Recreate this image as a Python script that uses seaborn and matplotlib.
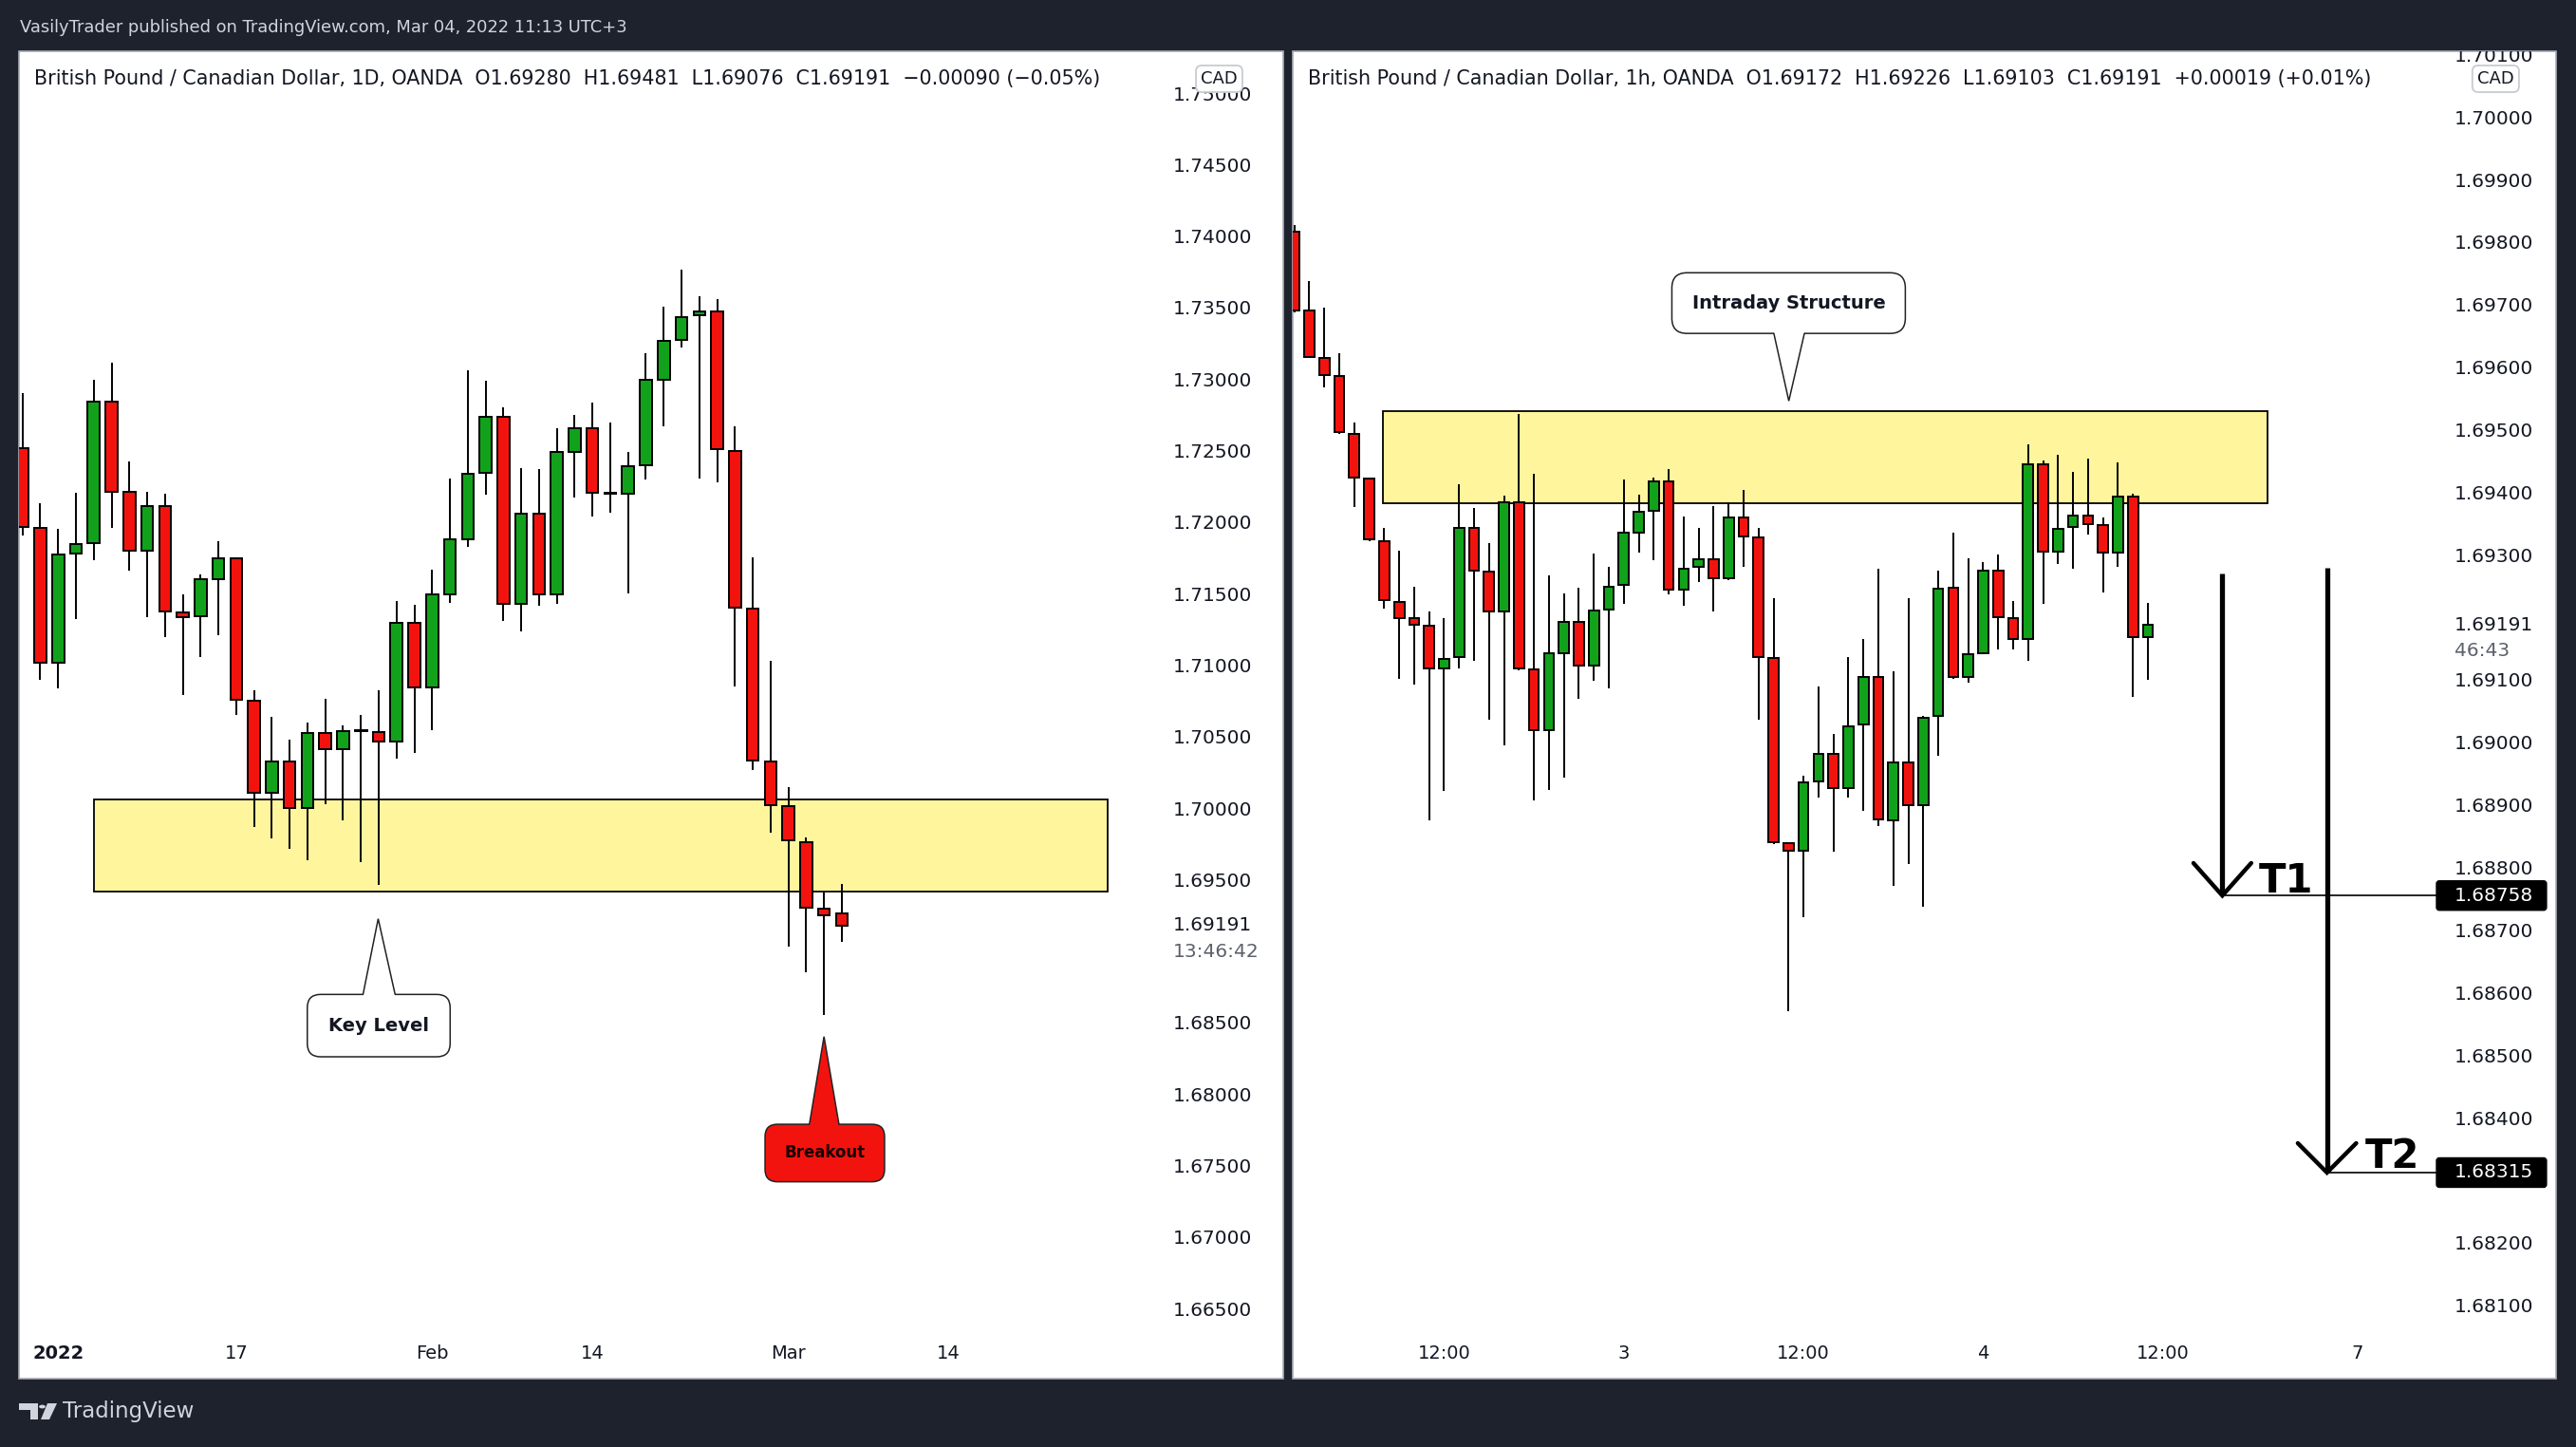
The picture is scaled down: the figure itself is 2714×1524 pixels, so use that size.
import numpy as np
import pandas as pd
import matplotlib
matplotlib.use("Agg")
import matplotlib.pyplot as plt
import matplotlib.transforms as mtransforms
from matplotlib.patches import Rectangle, FancyBboxPatch, Polygon, Circle
import seaborn as sns

# ------------------------------------------------------------------ data
# GBP/CAD daily candles (Dec 30 2021 .. Mar 04 2022)
daily_open = [1.72529, 1.71972, 1.71027, 1.71792, 1.71863, 1.72857, 1.72227, 1.71810,
              1.72127, 1.71380, 1.71352, 1.71617, 1.71759, 1.70763, 1.70123, 1.70339,
              1.70016, 1.70537, 1.70425, 1.70553, 1.70544, 1.70481, 1.71307, 1.70854,
              1.71510, 1.71896, 1.72356, 1.72750, 1.71439, 1.72072, 1.71508, 1.72506,
              1.72669, 1.72216, 1.72211, 1.72410, 1.73010, 1.73287, 1.73457, 1.73485,
              1.72513, 1.71405, 1.70339, 1.70029, 1.69777, 1.69313, 1.69280]
daily_high = [1.72915, 1.72148, 1.71967, 1.72216, 1.73007, 1.73126, 1.72440, 1.72222,
              1.72209, 1.71505, 1.71650, 1.71878, 1.71765, 1.70839, 1.70649, 1.70489,
              1.70613, 1.70776, 1.70590, 1.70666, 1.70839, 1.71464, 1.71436, 1.71683,
              1.72321, 1.73078, 1.73004, 1.72819, 1.72392, 1.72387, 1.72671, 1.72765,
              1.72847, 1.72712, 1.72506, 1.73192, 1.73521, 1.73777, 1.73590, 1.73576,
              1.72686, 1.71768, 1.71041, 1.70163, 1.69806, 1.69425, 1.69481]
daily_low = [1.71919, 1.70910, 1.70852, 1.71335, 1.71746, 1.71972, 1.71675, 1.71347,
             1.71210, 1.70804, 1.71070, 1.71225, 1.70664, 1.69879, 1.69802, 1.69726,
             1.69647, 1.70041, 1.69927, 1.69635, 1.69477, 1.70359, 1.70400, 1.70557,
             1.71449, 1.71840, 1.72206, 1.71322, 1.71248, 1.71431, 1.71441, 1.72186,
             1.72051, 1.72079, 1.71515, 1.72310, 1.72683, 1.73233, 1.72319, 1.72290,
             1.70865, 1.70281, 1.69839, 1.69047, 1.68867, 1.68565, 1.69076]
daily_close = [1.71980, 1.71027, 1.71787, 1.71861, 1.72857, 1.72227, 1.71810, 1.72127,
               1.71386, 1.71350, 1.71614, 1.71759, 1.70768, 1.70123, 1.70339, 1.70016,
               1.70537, 1.70425, 1.70550, 1.70557, 1.70481, 1.71307, 1.70854, 1.71508,
               1.71891, 1.72351, 1.72750, 1.71439, 1.72072, 1.71508, 1.72504, 1.72669,
               1.72216, 1.72212, 1.72404, 1.73007, 1.73280, 1.73449, 1.73485, 1.72521,
               1.71412, 1.70346, 1.70036, 1.69785, 1.69317, 1.69266, 1.69191]

# GBP/CAD hourly candles (Mar 02 02:00 .. Mar 04 11:00, UTC+3)
hourly_open = [1.69820, 1.69693, 1.69618, 1.69589, 1.69496, 1.69425, 1.69324, 1.69227,
               1.69201, 1.69189, 1.69122, 1.69139, 1.69346, 1.69276, 1.69213, 1.69387,
               1.69120, 1.69022, 1.69146, 1.69195, 1.69126, 1.69216, 1.69255, 1.69339,
               1.69374, 1.69420, 1.69248, 1.69283, 1.69296, 1.69266, 1.69363, 1.69331,
               1.69138, 1.68842, 1.68830, 1.68941, 1.68985, 1.68930, 1.69031, 1.69107,
               1.68878, 1.68971, 1.68903, 1.69045, 1.69250, 1.69107, 1.69146, 1.69278,
               1.69201, 1.69169, 1.69448, 1.69308, 1.69347, 1.69366, 1.69350, 1.69306,
               1.69396, 1.69172]
hourly_high = [1.69830, 1.69741, 1.69698, 1.69626, 1.69514, 1.69427, 1.69346, 1.69310,
               1.69252, 1.69213, 1.69202, 1.69416, 1.69378, 1.69321, 1.69397, 1.69528,
               1.69432, 1.69270, 1.69241, 1.69250, 1.69305, 1.69284, 1.69423, 1.69399,
               1.69426, 1.69440, 1.69364, 1.69346, 1.69381, 1.69387, 1.69407, 1.69346,
               1.69233, 1.68843, 1.68950, 1.69092, 1.69017, 1.69139, 1.69169, 1.69281,
               1.69117, 1.69233, 1.69046, 1.69278, 1.69339, 1.69297, 1.69291, 1.69304,
               1.69229, 1.69480, 1.69454, 1.69463, 1.69435, 1.69457, 1.69363, 1.69451,
               1.69401, 1.69226]
hourly_low = [1.69690, 1.69618, 1.69570, 1.69497, 1.69380, 1.69325, 1.69217, 1.69105,
              1.69096, 1.68878, 1.68926, 1.69121, 1.69133, 1.69040, 1.68998, 1.69118,
              1.68910, 1.68927, 1.68947, 1.69072, 1.69101, 1.69089, 1.69224, 1.69307,
              1.69294, 1.69239, 1.69222, 1.69259, 1.69213, 1.69263, 1.69283, 1.69040,
              1.68841, 1.68573, 1.68723, 1.68914, 1.68828, 1.68915, 1.68893, 1.68869,
              1.68773, 1.68808, 1.68740, 1.68981, 1.69105, 1.69099, 1.69146, 1.69151,
              1.69151, 1.69133, 1.69224, 1.69289, 1.69281, 1.69336, 1.69242, 1.69284,
              1.69076, 1.69103]
hourly_close = [1.69693, 1.69620, 1.69590, 1.69499, 1.69426, 1.69327, 1.69230, 1.69202,
                1.69191, 1.69122, 1.69136, 1.69346, 1.69278, 1.69213, 1.69387, 1.69121,
                1.69022, 1.69145, 1.69195, 1.69126, 1.69214, 1.69252, 1.69338, 1.69372,
                1.69420, 1.69248, 1.69281, 1.69296, 1.69266, 1.69363, 1.69332, 1.69140,
                1.68843, 1.68830, 1.68939, 1.68985, 1.68930, 1.69028, 1.69107, 1.68880,
                1.68971, 1.68903, 1.69042, 1.69249, 1.69107, 1.69144, 1.69278, 1.69203,
                1.69169, 1.69448, 1.69308, 1.69344, 1.69366, 1.69352, 1.69306, 1.69396,
                1.69171, 1.69191]

daily_tick_pos = [2, 12, 23, 32, 43, 52]
daily_tick_labels = ["2022", "17", "Feb", "14", "Mar", "14"]
hourly_tick_pos = [10, 22, 34, 46, 58, 71]
hourly_tick_labels = ["12:00", "3", "12:00", "4", "12:00", "7"]

daily_price_ticks = [1.750, 1.745, 1.740, 1.735, 1.730, 1.725, 1.720, 1.715, 1.710,
                     1.705, 1.700, 1.695, 1.685, 1.680, 1.675, 1.670, 1.665]
hourly_price_ticks = [1.701, 1.700, 1.699, 1.698, 1.697, 1.696, 1.695, 1.694, 1.693,
                      1.691, 1.690, 1.689, 1.688, 1.687, 1.686, 1.685, 1.684,
                      1.682, 1.681]

key_zone = (1.69428, 1.70073)
intraday_zone = (1.69385, 1.69532)
last_price = 1.69191
t1_price = 1.68758
t2_price = 1.68315

header_daily = ("British Pound / Canadian Dollar, 1D, OANDA  O1.69280  H1.69481  "
                "L1.69076  C1.69191  \u22120.00090 (\u22120.05%)")
header_hourly = ("British Pound / Canadian Dollar, 1h, OANDA  O1.69172  H1.69226  "
                 "L1.69103  C1.69191  +0.00019 (+0.01%)")

# ------------------------------------------------------------------ style
sns.set_theme(style="white")
plt.rcParams["font.family"] = ["DejaVu Sans"]

BG = "#1e222d"
GREEN = "#12a11b"
RED = "#f2130f"
YELLOW = "#fff59d"
TXT = "#131722"

W, H = 2714, 1524
fig = plt.figure(figsize=(W / 100, H / 100), dpi=100, facecolor=BG)


def fr(x0, y0, x1, y1):
    """pixel box (top-left origin) -> figure fraction rect"""
    return [x0 / W, 1 - y1 / H, (x1 - x0) / W, (y1 - y0) / H]


# panels
for (px0, px1) in [(20, 1352), (1362, 2693)]:
    fig.add_artist(Rectangle((px0 / W, 1 - 1452 / H), (px1 - px0) / W, (1452 - 54) / H,
                             transform=fig.transFigure, fc="white", ec="#a9acb5",
                             lw=1.2, zorder=-1))

axL = fig.add_axes(fr(20, 54, 1217, 1402))
axLp = fig.add_axes(fr(1217, 54, 1352, 1402))
axR = fig.add_axes(fr(1362, 54, 2567, 1402))
axRp = fig.add_axes(fr(2567, 54, 2693, 1402))
for a in (axL, axLp, axR, axRp):
    a.set_facecolor("none")
    a.axis("off")

axL.set_xlim(-0.197, 63.59)
axL.set_ylim(1.663552, 1.753057)
axR.set_xlim(-0.108, 76.27)
axR.set_ylim(1.680614, 1.701082)
axLp.set_xlim(0, 1)
axLp.set_ylim(axL.get_ylim())
axRp.set_xlim(0, 1)
axRp.set_ylim(axR.get_ylim())

PXL = (18.765, 15055.0)   # pixels per x unit, per price unit (daily)
PXR = (15.778, 65856.0)   # (hourly)


def candles(ax, o, h, l, c, width):
    df = pd.DataFrame({"open": o, "high": h, "low": l, "close": c})
    x = np.arange(len(df))
    up = df["close"] >= df["open"]
    cols = np.where(up, GREEN, RED)
    ax.vlines(x, df["low"], df["high"], color="black", lw=1.4, zorder=3)
    body = (df["close"] - df["open"]).abs().clip(lower=0.00002)
    ax.bar(x, body, bottom=np.minimum(df["open"], df["close"]), width=width,
           color=cols, edgecolor="black", linewidth=1.4, zorder=4)


# zones
axL.add_patch(Rectangle((4.02, key_zone[0]), 60.93 - 4.02, key_zone[1] - key_zone[0],
                        fc=YELLOW, ec="black", lw=1.3, zorder=2))
axR.add_patch(Rectangle((5.9, intraday_zone[0]), 65.0 - 5.9,
                        intraday_zone[1] - intraday_zone[0],
                        fc=YELLOW, ec="black", lw=1.3, zorder=2))

candles(axL, daily_open, daily_high, daily_low, daily_close, 0.67)
candles(axR, hourly_open, hourly_high, hourly_low, hourly_close, 0.68)


def callout(ax, px, x0, x1, y0, y1, tip, bx0, bx1, edge_y, face, text, fs, tcol, r_px=14):
    aspect = px[0] / px[1]
    r = r_px / px[0]
    ax.add_patch(FancyBboxPatch((x0, y0), x1 - x0, y1 - y0,
                                boxstyle=f"round,pad=0,rounding_size={r}",
                                mutation_aspect=aspect, fc=face, ec="#222222",
                                lw=1.1, zorder=8))
    inside = (y1 - y0) * 0.15 * (1 if edge_y == y0 else -1)
    ax.add_patch(Polygon([(bx0, edge_y + inside), (bx0, edge_y), tip, (bx1, edge_y),
                          (bx1, edge_y + inside)], closed=True, fc=face, ec="none",
                         zorder=9))
    ax.plot([bx0, tip[0], bx1], [edge_y, tip[1], edge_y], color="#222222", lw=1.1,
            zorder=10, solid_joinstyle="miter")
    ax.text((x0 + x1) / 2, (y0 + y1) / 2, text, ha="center", va="center",
            fontsize=fs, fontweight="bold", color=tcol, zorder=11)


callout(axL, PXL, 15.99, 24.01, 1.68274, 1.68710, (19.97, 1.69239), 19.12, 20.92,
        1.68710, "white", "Key Level", 14, TXT, 14)
callout(axL, PXL, 41.69, 48.40, 1.67400, 1.67802, (45.0, 1.68415), 44.18, 45.84,
        1.67802, RED, "Breakout", 12, "#1a0000", 13)
callout(axR, PXR, 25.21, 40.80, 1.69657, 1.69754, (33.02, 1.69549), 32.02, 34.06,
        1.69657, "white", "Intraday Structure", 14, TXT, 16)

# targets
for xv, top, price, arm_dx, arm_dy, lab_x, lab_y, lab in [
        (61.97, 1.69273, t1_price, 1.93, 0.00052, 64.42, 1.68763, "T1"),
        (68.96, 1.69282, t2_price, 1.95, 0.00047, 71.50, 1.68323, "T2")]:
    axR.plot([xv, xv], [top, price + 0.00004], color="black", lw=3.8, zorder=6,
             solid_capstyle="butt")
    axR.plot([xv - arm_dx, xv, xv + arm_dx], [price + arm_dy, price, price + arm_dy],
             color="black", lw=3.2, zorder=6, solid_joinstyle="miter")
    axR.plot([xv, axR.get_xlim()[1]], [price, price], color="black", lw=1.2, zorder=5)
    axR.text(lab_x, lab_y, lab, ha="left", va="baseline", fontsize=30,
             fontweight="bold", color="black", zorder=7)

# price scales
LBL = 14.5
for ax, ticks, xfrac in [(axLp, daily_price_ticks, 0.141), (axRp, hourly_price_ticks, 0.151)]:
    for v in ticks:
        ax.text(xfrac, v, f"{v:.5f}", ha="left", va="center", fontsize=LBL,
                color=TXT, clip_on=True, zorder=3)

# current price + countdown
axLp.text(0.141, last_price, f"{last_price:.5f}", ha="left", va="center",
          fontsize=LBL, color=TXT, zorder=4)
axLp.text(0.141, last_price - 27.7 / PXL[1], "13:46:42", ha="left", va="center",
          fontsize=LBL, color="#5d606b", zorder=4)
axRp.text(0.151, last_price, f"{last_price:.5f}", ha="left", va="center",
          fontsize=LBL, color=TXT, zorder=4)
axRp.text(0.151, last_price - 27.7 / PXR[1], "46:43", ha="left", va="center",
          fontsize=LBL, color="#5d606b", zorder=4)

# target price boxes
for price in (t1_price, t2_price):
    hh = 15.5 / PXR[1]
    axRp.add_patch(FancyBboxPatch((0.0, price - hh), 0.92, 2 * hh,
                                  boxstyle=f"round,pad=0,rounding_size={3/126}",
                                  mutation_aspect=126 / PXR[1], fc="black", ec="black",
                                  lw=1, transform=axRp.transData, zorder=6, clip_on=False))
    axRp.text(0.151, price, f"{price:.5f}", ha="left", va="center", fontsize=LBL,
              color="white", zorder=7)

# CAD currency boxes
for ax, x0, x1, wpx in [(axLp, 0.319, 0.681, 135), (axRp, 0.30, 0.69, 126)]:
    ax.add_patch(FancyBboxPatch((x0, 0.9681), x1 - x0, 0.0208,
                                boxstyle=f"round,pad=0,rounding_size={6/wpx}",
                                mutation_aspect=wpx / 1348, fc="white", ec="#c9cbd1",
                                lw=1.3, transform=ax.transAxes, zorder=8))
    ax.text((x0 + x1) / 2, 0.9785, "CAD", transform=ax.transAxes, ha="center",
            va="center", fontsize=13, color=TXT, zorder=9)

# time scales
for ax, pos, labs in [(axL, daily_tick_pos, daily_tick_labels),
                      (axR, hourly_tick_pos, hourly_tick_labels)]:
    tr = mtransforms.blended_transform_factory(ax.transData, ax.transAxes)
    for p, s in zip(pos, labs):
        ax.text(p, -0.0171, s, transform=tr, ha="center", va="center", fontsize=14,
                fontweight="bold" if s == "2022" else "normal", color=TXT,
                clip_on=False)

# headers
fig.text(36 / W, 1 - 83 / H, header_daily, fontsize=14.9, color=TXT, va="center")
fig.text(1378 / W, 1 - 83 / H, header_hourly, fontsize=14.9, color=TXT, va="center")

fig.text(21 / W, 1 - 29 / H,
         "VasilyTrader published on TradingView.com, Mar 04, 2022 11:13 UTC+3",
         fontsize=12.9, color="#d1d4dc", va="center")

# footer logo
LOGO = "#d1d4dc"
def P(x, y):
    return (x / W, 1 - y / H)
fig.add_artist(Polygon([P(20, 1478), P(40, 1478), P(40, 1495), P(32, 1495), P(32, 1485),
                        P(20, 1485)], closed=True, transform=fig.transFigure, fc=LOGO,
                       ec="none"))
fig.add_artist(Polygon([P(50, 1478), P(60, 1478), P(52, 1495), P(43, 1495)], closed=True,
                       transform=fig.transFigure, fc=LOGO, ec="none"))
fig.add_artist(Circle(P(44.5, 1481.5), 3.4 / W, transform=fig.transFigure, fc=LOGO,
                      ec="none"))
fig.text(66 / W, 1 - 1487 / H, "TradingView", fontsize=16.5, color=LOGO, va="center")

fig.savefig("out.png", dpi=100, facecolor=BG)
